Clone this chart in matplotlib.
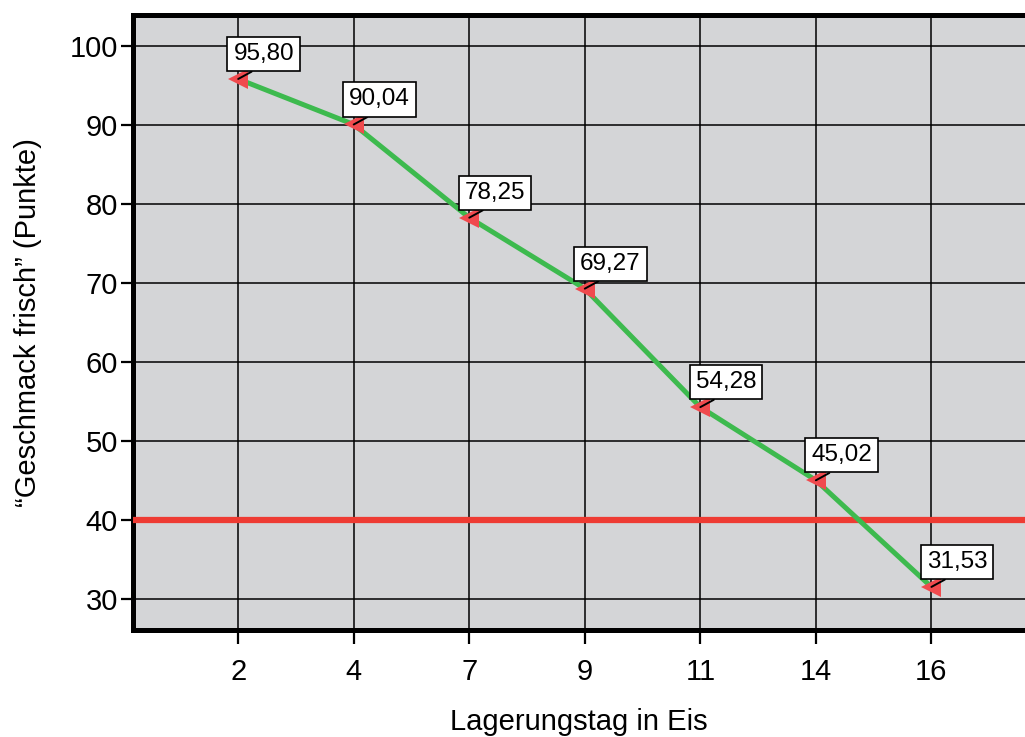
import numpy as np
import matplotlib.pyplot as plt

plt.rcParams['font.family'] = ['Liberation Sans', 'DejaVu Sans']

# data
days = ['2', '4', '7', '9', '11', '14', '16']
scores = [95.80, 90.04, 78.25, 69.27, 54.28, 45.02, 31.53]
limit = 40
yticks = [30, 40, 50, 60, 70, 80, 90, 100]

fig = plt.figure(figsize=(10.25, 7.37), dpi=100)
ax = fig.add_axes([0.1298, 0.1452, 0.8702, 0.8345])
ax.set_facecolor('#d4d5d7')

x = np.arange(len(days))

# grid
ax.set_axisbelow(True)
ax.grid(True, color='black', linewidth=1.1)

ax.axhline(limit, color='#ee3b33', linewidth=4.5, zorder=3)
ax.plot(x, scores, color='#3dba4e', linewidth=3.6, zorder=4)
ax.plot(x, scores, linestyle='none', marker='<', markersize=14,
        color='#f04a4e', markeredgewidth=0, zorder=5)

for xi, yi in zip(x, scores):
    lbl = f"{yi:.2f}".replace('.', ',')
    ax.annotate(lbl, xy=(xi, yi), xytext=(18.5, 18), textcoords='offset points',
                ha='center', va='center', fontsize=17.5, zorder=6,
                bbox=dict(boxstyle='square,pad=0.25', fc='white', ec='black', lw=1.2),
                arrowprops=dict(arrowstyle='-', color='black', lw=1.4,
                                relpos=(0.5, 0), shrinkA=0, shrinkB=0))

ax.set_xlim(-0.91, 6.81)
ax.set_ylim(26.08, 103.9)
ax.set_xticks(x)
ax.set_xticklabels(days)
ax.set_yticks(yticks)

for side in ['top', 'left', 'bottom']:
    ax.spines[side].set_linewidth(3.6)
ax.spines['right'].set_visible(False)

ax.tick_params(axis='y', length=9, width=1.6, pad=2, labelsize=21)
ax.tick_params(axis='x', length=10, width=1.6, pad=10, labelsize=21)

ax.set_xlabel('Lagerungstag in Eis', fontsize=21, labelpad=16)
ax.set_ylabel('\u201cGeschmack frisch\u201d (Punkte)', fontsize=21, labelpad=20)

fig.savefig('out.png', dpi=100)
